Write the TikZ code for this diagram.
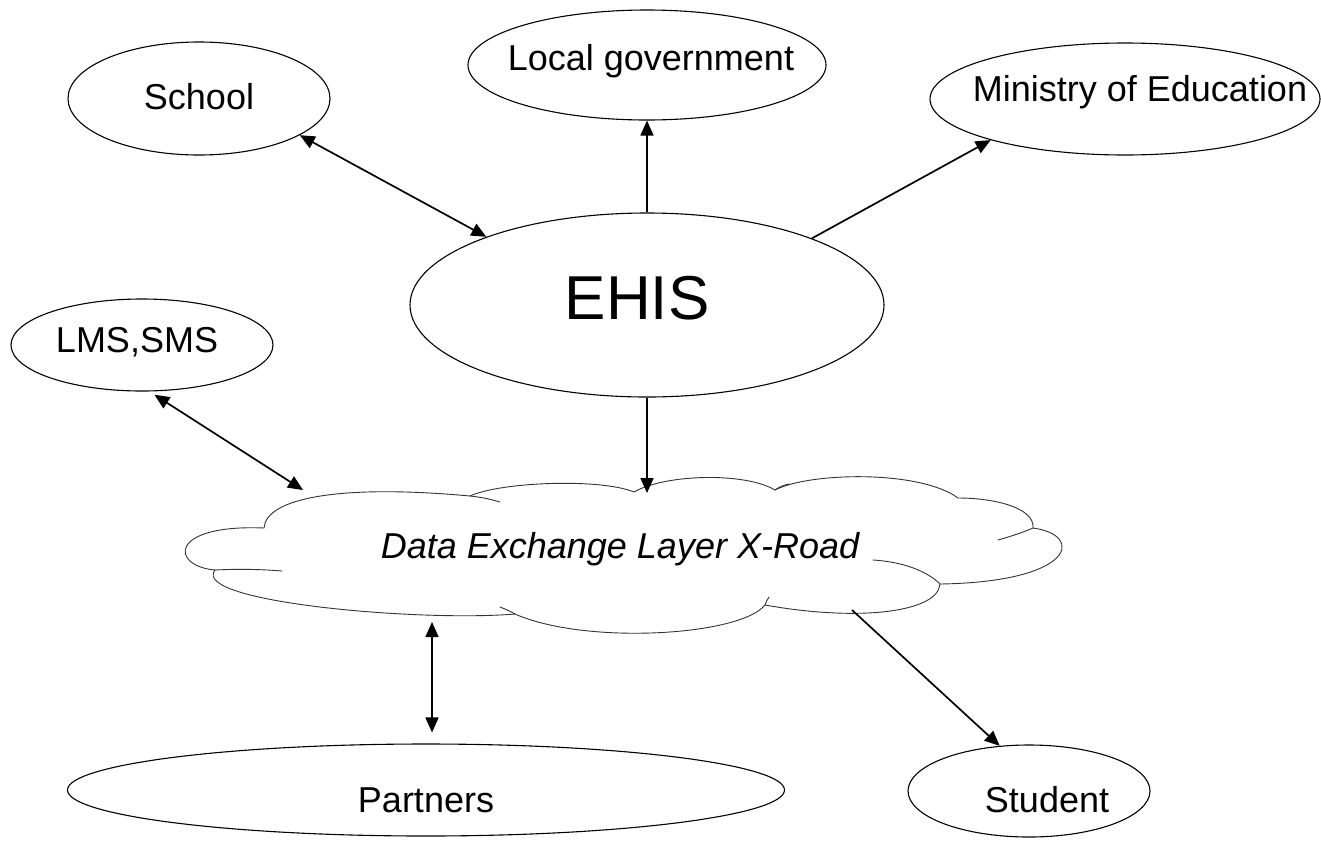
\documentclass[tikz,border=0pt]{standalone}
\usepackage{fontspec}
\setmainfont{Liberation Sans}
\usetikzlibrary{shapes.geometric,arrows.meta}
% label set in a zero-size box: #1 = twice the horizontal offset, #2 = baseline lift
\newcommand\nodetext[3]{\raisebox{#2}[0pt][0pt]{\makebox[0pt]{\hspace*{#1}#3}}}
\begin{document}
\begin{tikzpicture}[x=1pt,y=1pt,
  entity/.style={ellipse,draw,line width=1.1pt,inner sep=0pt,
    font=\fontsize{36}{40}\selectfont},
  link/.style={line width=1.7pt,-{Triangle[length=15pt,width=13pt]}},
  twoway/.style={line width=1.7pt,
    {Triangle[length=15pt,width=13pt]}-{Triangle[length=15pt,width=13pt]}},
  puff/.style={line width=0.9pt,draw=black!80,line join=round,line cap=round}]
\useasboundingbox (0,0) rectangle (1321,-860);

% systems and parties
\node[entity,minimum width=262pt,minimum height=113pt] (school) at (199,-98.5)
  {\nodetext{0pt}{-10.9pt}{School}};
\node[entity,minimum width=358pt,minimum height=110pt] (local) at (647,-65)
  {\nodetext{8pt}{-5.4pt}{Local government}};
\node[entity,minimum width=390pt,minimum height=112pt] (ministry) at (1125,-99)
  {\nodetext{30pt}{-2.9pt}{Ministry of Education}};
\node[entity,font=\fontsize{62}{70}\selectfont,minimum width=474pt,minimum height=184pt]
  (ehis) at (647,-305) {\nodetext{-20pt}{-14.2pt}{EHIS}};
\node[entity,minimum width=262pt,minimum height=92pt] (lms) at (142,-345)
  {\nodetext{-10pt}{-7.9pt}{LMS,SMS}};
\node[entity,minimum width=717pt,minimum height=92pt] (partners) at (426,-790)
  {\nodetext{0pt}{-22.9pt}{Partners}};
\node[entity,minimum width=242pt,minimum height=92pt] (student) at (1029,-791)
  {\nodetext{36pt}{-21.9pt}{Student}};

% data exchange cloud
\draw[puff] (215,-570)
  .. controls (170,-566) and (168,-524) .. (264,-528)
  .. controls (266,-498) and (340,-484) .. (470,-496)
  .. controls (500,-482) and (600,-478) .. (634,-492)
  .. controls (665,-474) and (745,-472) .. (775,-490)
  .. controls (810,-472) and (920,-470) .. (958,-498)
  .. controls (995,-498) and (1035,-508) .. (1033,-528)
  .. controls (1085,-535) and (1075,-582) .. (940,-584)
  .. controls (938,-612) and (860,-622) .. (765,-605)
  .. controls (740,-636) and (585,-645) .. (515,-614)
  .. controls (420,-622) and (190,-602) .. (215,-570) -- cycle;
% inner ends of the puffs
\draw[puff] (470,-496) .. controls (480,-497) and (490,-499) .. (500,-502);
\draw[puff] (775,-490) .. controls (779,-487) and (784,-485) .. (789,-484);
\draw[puff] (998,-540) .. controls (1012,-536) and (1024,-532) .. (1033,-528);
\draw[puff] (873,-560) .. controls (905,-562) and (928,-572) .. (940,-584);
\draw[puff] (765,-605) .. controls (766,-602) and (767,-600) .. (769,-597);
\draw[puff] (515,-614) .. controls (510,-611) and (505,-609) .. (500,-607);
\draw[puff] (215,-570) .. controls (235,-569) and (258,-569) .. (282,-571);

\node[anchor=base,inner sep=0pt,font=\fontsize{36}{40}\selectfont\itshape]
  (xroad) at (620,-558) {Data Exchange Layer X-Road};

% attachment points on the cloud outline
\coordinate (cLMS) at (303,-490);
\coordinate (cEHIS) at (647,-493);
\coordinate (cPart) at (432,-622);
\coordinate (cStud) at (852,-610);

% connectors
\draw[twoway] (school.-20) -- (ehis.157.6);
\draw[link] (ehis.90) -- (local.-90);
\draw[link] (ehis.22) -- (ministry.197);
\draw[twoway,shorten <=6pt] (lms.-81) -- (cLMS);
\draw[link] (ehis.-90) -- (cEHIS);
\draw[twoway,shorten >=11pt] (cPart) -- (partners.north -| cPart);
\draw[link] (cStud) -- (student.123.7);
\end{tikzpicture}
\end{document}
